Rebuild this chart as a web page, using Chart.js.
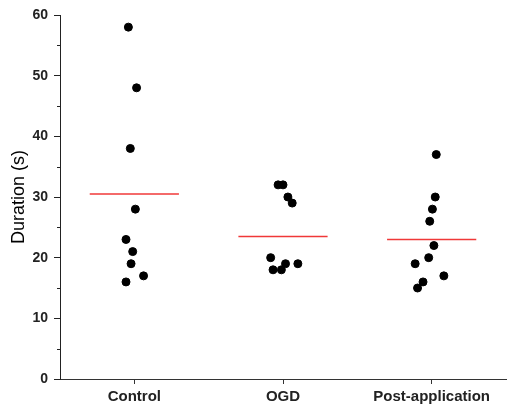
<!DOCTYPE html>
<html>
<head>
<meta charset="utf-8">
<script src="https://cdn.jsdelivr.net/npm/chart.js@4/dist/chart.umd.min.js"></script>
<style>
  body { margin: 0; background: #fff; }
  #wrap { width: 511px; height: 419px; }
</style>
</head>
<body>
<div id="wrap"><canvas id="chart"></canvas></div>
<script>
// Data
const groups = ['Control', 'OGD', 'Post-application'];
const controlValues = [58, 48, 38, 28, 23, 21, 19, 17, 16];
const controlJitter = [-0.04, 0.015, -0.027, 0.007, -0.056, -0.011, -0.022, 0.062, -0.056];
const ogdValues = [32, 32, 30, 29, 20, 18, 18, 19, 19];
const ogdJitter = [-0.033, 0, 0.033, 0.062, -0.083, -0.067, -0.011, 0.017, 0.1];
const postValues = [37, 30, 28, 26, 22, 20, 19, 17, 16, 15];
const postJitter = [0.031, 0.024, 0.005, -0.013, 0.015, -0.02, -0.111, 0.082, -0.058, -0.095];
const meanValues = [30.5, 23.5, 23];
const yTicks = [0, 10, 20, 30, 40, 50, 60];

const allValues = [controlValues, ogdValues, postValues];
const allJitter = [controlJitter, ogdJitter, postJitter];

// Punktene for hver gruppe
const points = [];
allValues.forEach((vals, g) => {
    vals.forEach((v, i) => points.push({ x: g + allJitter[g][i], y: v }));
});

// Red mean lines
const meanSets = meanValues.map((m, g) => ({
    type: 'line',
    data: [{ x: g - 0.3, y: m }, { x: g + 0.3, y: m }],
    borderColor: '#f03838',
    borderWidth: 1.5,
    pointRadius: 0,
    order: 2
}));

// Small minor ticks on the y axis (every 5)
const minorTicks = {
    id: 'minorTicks',
    afterDraw(chart) {
        const y = chart.scales.y;
        const ctx = chart.ctx;
        const x0 = y.right;
        ctx.save();
        ctx.strokeStyle = '#222';
        ctx.lineWidth = 1;
        for (let v = 5; v < 60; v += 10) {
            const py = Math.round(y.getPixelForValue(v)) + 0.5;
            ctx.beginPath();
            ctx.moveTo(x0 - 3, py);
            ctx.lineTo(x0, py);
            ctx.stroke();
        }
        ctx.restore();
    }
};

const ctx = document.getElementById('chart').getContext('2d');
new Chart(ctx, {
    type: 'scatter',
    data: {
        datasets: [{
            data: points,
            backgroundColor: '#000',
            borderColor: '#000',
            pointRadius: 4,
            pointHoverRadius: 4,
            order: 1
        }, ...meanSets]
    },
    options: {
        responsive: true,
        maintainAspectRatio: false,
        animation: false,
        layout: { padding: { top: 15, right: 0, left: 0, bottom: 0 } },
        plugins: { legend: { display: false }, tooltip: { enabled: false } },
        scales: {
            x: {
                type: 'linear',
                min: -0.5,
                max: 2.5,
                afterBuildTicks: s => { s.ticks = groups.map((_, i) => ({ value: i })); },
                afterFit: s => { s.height = 40; },
                ticks: {
                    callback: v => groups[v],
                    color: '#222',
                    font: { family: 'Liberation Sans', size: 15, weight: 'bold' },
                    padding: 4,
                    maxRotation: 0
                },
                grid: { drawOnChartArea: false, drawTicks: true, tickLength: 5, color: '#333' },
                border: { display: true, color: '#333', width: 1 }
            },
            y: {
                min: 0,
                max: 60,
                afterBuildTicks: s => { s.ticks = yTicks.map(v => ({ value: v })); },
                afterFit: s => { s.width = 60; },
                ticks: {
                    color: '#222',
                    font: { family: 'Liberation Sans', size: 14, weight: 'bold' },
                    padding: 6
                },
                title: {
                    display: true,
                    text: 'Duration (s)',
                    color: '#000',
                    font: { family: 'Liberation Sans', size: 18 },
                    padding: { top: 8, bottom: 0 }
                },
                grid: { drawOnChartArea: false, drawTicks: true, tickLength: 6, color: '#222' },
                border: { display: true, color: '#222', width: 1 }
            }
        }
    },
    plugins: [minorTicks]
});
</script>
</body>
</html>
